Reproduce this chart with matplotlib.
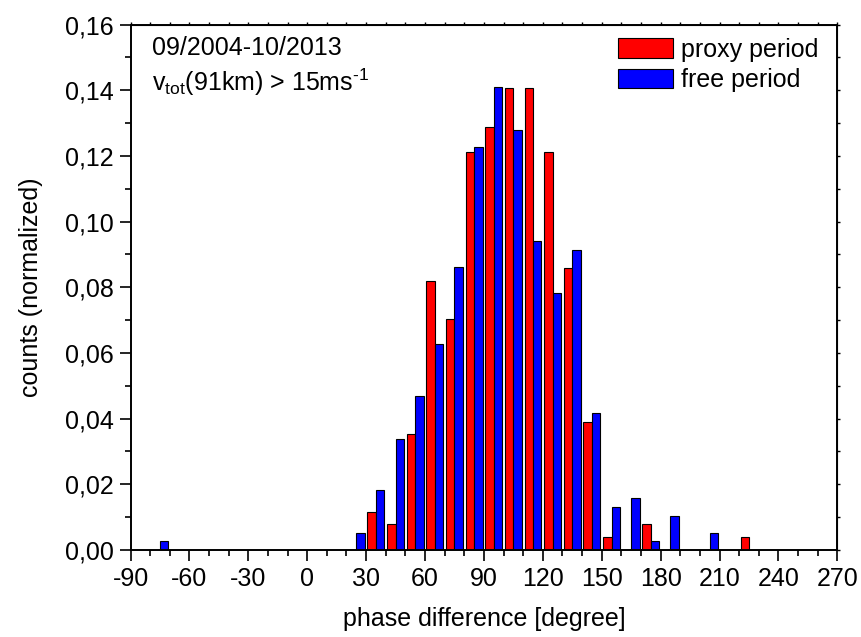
import numpy as np
import matplotlib
matplotlib.use('Agg')
import matplotlib.pyplot as plt
from matplotlib.ticker import MultipleLocator, FuncFormatter

plt.rcParams['font.family'] = ['Liberation Sans', 'DejaVu Sans']
plt.rcParams['mathtext.fontset'] = 'custom'
plt.rcParams['mathtext.rm'] = 'Liberation Sans'
plt.rcParams['mathtext.it'] = 'Liberation Sans'
plt.rcParams['axes.unicode_minus'] = False

# 10 degree bins, centres
bin_centers = [-75, 25, 35, 45, 55, 65, 75, 85, 95, 105, 115, 125, 135, 145, 155, 165, 175, 185, 205, 225]
proxy_period = [0, 0, 0.0117, 0.0078, 0.0352, 0.0820, 0.0703, 0.1211, 0.1289, 0.1406,
                0.1406, 0.1211, 0.0859, 0.0391, 0.0039, 0, 0.0078, 0, 0, 0.0039]
free_period = [0.0026, 0.0052, 0.0183, 0.0339, 0.0470, 0.0627, 0.0862, 0.1227, 0.1410, 0.1279,
               0.0940, 0.0783, 0.0914, 0.0418, 0.0131, 0.0157, 0.0026, 0.0104, 0.0052, 0]

FS = 18

fig = plt.figure(figsize=(8.62, 6.37), dpi=100)
ax = fig.add_axes([0.1514, 0.1366, 0.82, 0.8249])

centers = np.array(bin_centers, dtype=float)
w = 4.3
ax.bar(centers - w / 2, proxy_period, width=w, color='#ff0000', edgecolor='black',
       linewidth=0.8, label='proxy period')
ax.bar(centers + w / 2, free_period, width=w, color='#0000ff', edgecolor='black',
       linewidth=0.8, label='free period')

ax.set_xlim(-90, 270)
ax.set_ylim(0, 0.16)
ax.xaxis.set_major_locator(MultipleLocator(30))
ax.xaxis.set_minor_locator(MultipleLocator(10))
ax.yaxis.set_major_locator(MultipleLocator(0.02))
ax.yaxis.set_minor_locator(MultipleLocator(0.01))
ax.yaxis.set_major_formatter(FuncFormatter(lambda v, p: f'{v:.2f}'.replace('.', ',')))

ax.tick_params(which='major', direction='out', length=8, width=1.2, labelsize=FS, pad=4)
ax.tick_params(which='minor', direction='out', length=4, width=1.2)
for s in ax.spines.values():
    s.set_linewidth(1.4)

# small outward ticks on top and right axes
top = ax.secondary_xaxis('top')
top.xaxis.set_major_locator(MultipleLocator(30))
top.xaxis.set_minor_locator(MultipleLocator(10))
top.tick_params(which='both', direction='out', length=2, width=1, labeltop=False)
right = ax.secondary_yaxis('right')
right.yaxis.set_major_locator(MultipleLocator(0.02))
right.yaxis.set_minor_locator(MultipleLocator(0.01))
right.tick_params(which='both', direction='out', length=2, width=1, labelright=False)

ax.set_xlabel('phase difference [degree]', fontsize=FS, labelpad=12)
ax.set_ylabel('counts (normalized)', fontsize=FS, labelpad=16)

ax.text(0.031, 0.978, '09/2004-10/2013', transform=ax.transAxes, fontsize=FS, va='top')
ax.text(0.031, 0.92, r'v$_{\rm tot}$(91km) > 15ms$^{\text{-1}}$', transform=ax.transAxes,
        fontsize=FS, va='top')

ax.legend(loc='upper left', bbox_to_anchor=(0.69, 0.975), frameon=False, fontsize=FS,
          handlelength=2.2, handleheight=0.8, handletextpad=0.3, labelspacing=0.25,
          borderpad=0, borderaxespad=0)

fig.savefig('out.png', dpi=100)
